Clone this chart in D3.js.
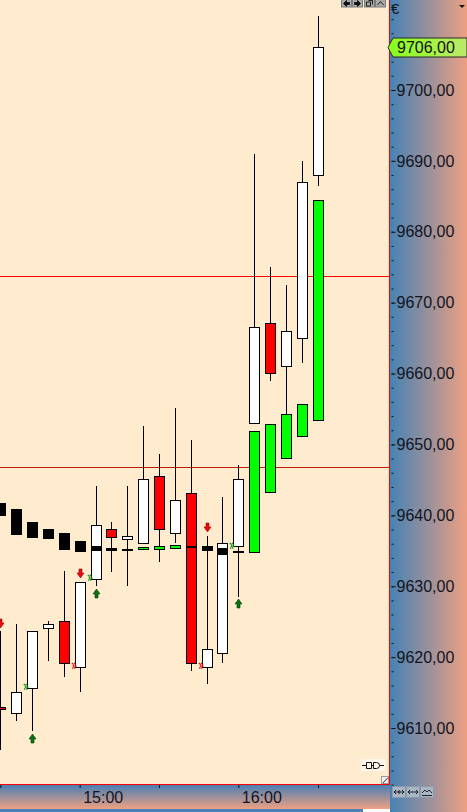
<!DOCTYPE html>
<html>
<head>
<meta charset="utf-8">
<script src="https://cdn.jsdelivr.net/npm/d3@7"></script>
<style>
    body { margin: 0; background: #fff; }
    svg { display: block; }
    text { font-family: "Liberation Sans", Arial, sans-serif; }
</style>
</head>
<body>
<div id="chart"></div>
<script>
// barras de 6 minutos
const barTimes = ['14:30', '14:36', '14:42', '14:48', '14:54', '15:00', '15:06', '15:12', '15:18', '15:24',
    '15:30', '15:36', '15:42', '15:48', '15:54', '16:00', '16:06', '16:12', '16:18', '16:24', '16:30']
const opens  = [9612.97, 9612.12, 9615.65, 9624.10, 9625.09, 9618.60, 9631.02, 9638.07, 9636.66, 9636.10,
    9645.55, 9637.51, 9643.15, 9618.60, 9620.58, 9635.67, 9653.03, 9667.13, 9661.07, 9665.02, 9688.01]
const highs  = [9623.68, 9624.67, 9623.68, 9625.09, 9632.15, 9630.60, 9644.14, 9639.06, 9644.14, 9652.60,
    9648.65, 9655.14, 9650.63, 9637.09, 9642.59, 9647.10, 9690.97, 9675.03, 9672.49, 9689.98, 9710.44]
const lows   = [9606.90, 9610.99, 9609.58, 9619.45, 9617.20, 9615.08, 9630.03, 9632.01, 9630.03, 9635.96,
    9633.42, 9636.10, 9618.04, 9616.21, 9619.17, 9628.48, 9653.00, 9658.95, 9654.30, 9661.49, 9686.46]
const closes = [9612.69, 9615.08, 9623.68, 9624.67, 9619.17, 9630.60, 9638.64, 9636.94, 9637.09, 9645.13,
    9638.07, 9642.16, 9619.17, 9621.14, 9636.10, 9645.13, 9666.57, 9660.08, 9666.00, 9687.02, 9706.07]

// indicador de cajas (negro = bajista, verde = alcista)
const boxOpens  = [9641.74, 9640.90, 9639.06, 9638.07, 9637.50, 9636.40, 9635.68, 9635.40, 9635.25, 9635.20,
    9635.25, 9635.45, 9635.70, 9635.70, 9635.35, 9635.00, 9634.80, 9643.30, 9648.10, 9651.20, 9653.50]
const boxCloses = [9639.91, 9637.20, 9636.80, 9636.66, 9635.10, 9634.83, 9634.97, 9634.97, 9635.10, 9635.50,
    9635.70, 9635.80, 9635.60, 9635.00, 9634.40, 9634.74, 9651.90, 9652.90, 9654.30, 9655.70, 9684.50]

const priceLines = [9673.76, 9646.82]
const lastPrice = 9706.00

const sellArrows = [{ bar: 0, price: 9624.1 }, { bar: 5, price: 9631.2 }, { bar: 13, price: 9637.65 }]
const buyArrows  = [{ bar: 2, price: 9609.2 }, { bar: 6, price: 9629.6 }, { bar: 15, price: 9628.2 }]
const markers = [
    { bar: 2, price: 9615.72, color: '#138a13' },
    { bar: 5, price: 9618.75, color: '#e01010' },
    { bar: 6, price: 9631.09, color: '#138a13' },
    { bar: 13, price: 9618.75, color: '#e01010' },
    { bar: 15, price: 9635.67, color: '#138a13' },
]

const priceTicksMajor = d3.range(9610, 9701, 10)
const priceTicksMinor = d3.range(9602, 9713, 2)

const config = {
    width: 467,
    height: 812,
    plotRight: 389,
    plotBottom: 784,
    bg: '#ffebcd',
}

const parseTime = d3.timeParse('%H:%M')
const fmtPrice = (d) => d3.format('.2f')(d).replace('.', ',')

const x = d3.scaleTime()
    .domain([parseTime('14:30'), parseTime('16:00')])
    .range([0.3, 238.3])
const y = d3.scaleLinear()
    .domain([9610, 9700])
    .range([728, 90])

const px = (v) => Math.round(v) + 0.5

const svg = d3.select('#chart')
    .append('svg')
    .attr('width', config.width)
    .attr('height', config.height)

const defs = svg.append('defs')
const gY = defs.append('linearGradient').attr('id', 'gradY').attr('x1', 0).attr('x2', 1).attr('y1', 0).attr('y2', 0)
gY.append('stop').attr('offset', '0%').attr('stop-color', '#4682b4')
gY.append('stop').attr('offset', '100%').attr('stop-color', '#eda082')
const gX = defs.append('linearGradient').attr('id', 'gradX').attr('x1', 0).attr('x2', 0).attr('y1', 0).attr('y2', 1)
gX.append('stop').attr('offset', '0%').attr('stop-color', '#4a7fb4')
gX.append('stop').attr('offset', '100%').attr('stop-color', '#eea182')
const gBadge = defs.append('linearGradient').attr('id', 'gradBadge').attr('x1', 0).attr('x2', 1).attr('y1', 0).attr('y2', 0)
gBadge.append('stop').attr('offset', '0%').attr('stop-color', '#86ff1a')
gBadge.append('stop').attr('offset', '100%').attr('stop-color', '#bde86a')
defs.append('clipPath').attr('id', 'plotClip')
    .append('rect').attr('x', 0).attr('y', 0).attr('width', config.plotRight).attr('height', config.plotBottom)

// fondos
svg.append('rect').attr('x', 0).attr('y', 0).attr('width', config.plotRight).attr('height', config.plotBottom).attr('fill', config.bg)
svg.append('rect').attr('x', 390).attr('y', 0).attr('width', 77).attr('height', 812).attr('fill', 'url(#gradY)')
svg.append('rect').attr('x', 0).attr('y', 785).attr('width', 390).attr('height', 24).attr('fill', 'url(#gradX)')
svg.append('rect').attr('x', 0).attr('y', 809).attr('width', 390).attr('height', 3).attr('fill', '#4a80b6')
svg.append('rect').attr('x', 363).attr('y', 809).attr('width', 27).attr('height', 3).attr('fill', '#ffffff')

const plot = svg.append('g').attr('clip-path', 'url(#plotClip)')

// lineas horizontales
plot.selectAll('.pline')
    .data(priceLines)
    .enter()
    .append('line')
    .attr('x1', 0).attr('x2', config.plotRight)
    .attr('y1', (d) => px(y(d))).attr('y2', (d) => px(y(d)))
    .attr('stroke', (d, i) => (i === 0 ? '#ff0000' : '#c41a0a'))
    .attr('stroke-width', 1)

const bars = barTimes.map((t, i) => ({
    cx: px(x(parseTime(t))),
    o: opens[i], h: highs[i], l: lows[i], c: closes[i],
    bo: boxOpens[i], bc: boxCloses[i],
}))

// velas
const candle = plot.selectAll('.candle').data(bars).enter().append('g')
candle.append('line')
    .attr('x1', (d) => d.cx).attr('x2', (d) => d.cx)
    .attr('y1', (d) => Math.round(y(d.h))).attr('y2', (d) => Math.round(y(d.l)))
    .attr('stroke', '#000').attr('stroke-width', 1)
candle.append('rect')
    .attr('x', (d) => d.cx - 5)
    .attr('width', 10)
    .attr('y', (d) => px(y(Math.max(d.o, d.c))))
    .attr('height', (d) => Math.max(1, Math.round(y(Math.min(d.o, d.c))) - Math.round(y(Math.max(d.o, d.c)))))
    .attr('fill', (d) => (d.c >= d.o ? '#ffffff' : '#ff0000'))
    .attr('stroke', '#000').attr('stroke-width', 1)

// indicador de cajas
plot.selectAll('.box').data(bars).enter()
    .append('rect')
    .each(function (d) {
        const up = d.bc > d.bo
        const top = Math.round(y(Math.max(d.bo, d.bc)))
        const bot = Math.round(y(Math.min(d.bo, d.bc)))
        const sel = d3.select(this)
        if (up) {
            sel.attr('x', d.cx - 5).attr('width', 10)
                .attr('y', top + 0.5).attr('height', Math.max(2, bot - top))
                .attr('fill', '#00ff00').attr('stroke', '#000').attr('stroke-width', 1)
        } else {
            sel.attr('x', d.cx - 5.5).attr('width', 11)
                .attr('y', top).attr('height', Math.max(2, bot - top))
                .attr('fill', '#000')
        }
    })

// flechas
const arrowDown = (cx, tip) => `M${cx - 1.5},${tip - 9} h3 v4 h2 l-3.5,5 l-3.5,-5 h2 z`
const arrowUp = (cx, tip) => `M${cx - 1.5},${tip + 9} h3 v-4 h2 l-3.5,-5 l-3.5,5 h2 z`
plot.selectAll('.sell').data(sellArrows).enter().append('path')
    .attr('d', (d) => arrowDown(bars[d.bar].cx, Math.round(y(d.price))))
    .attr('fill', '#e80c0c').attr('stroke', '#a00000').attr('stroke-width', 0.6)
plot.selectAll('.buy').data(buyArrows).enter().append('path')
    .attr('d', (d) => arrowUp(bars[d.bar].cx, Math.round(y(d.price))))
    .attr('fill', '#0a7010').attr('stroke', '#044008').attr('stroke-width', 0.6)

// marcas punteadas
const mk = plot.selectAll('.mk').data(markers).enter().append('g')
    .attr('transform', (d) => `translate(${bars[d.bar].cx - 8.5},${Math.round(y(d.price))})`)
mk.append('path')
    .attr('d', 'M0,-3 L2,0 L0,3 M2,-3 L4,0 L2,3')
    .attr('fill', 'none')
    .attr('stroke', (d) => d.color)
    .attr('stroke-width', 1.4)
    .attr('stroke-dasharray', '1.2 0.6')

// bordes rojos
svg.append('line').attr('x1', 389.5).attr('x2', 389.5).attr('y1', 0).attr('y2', 785).attr('stroke', '#ff0000')
svg.append('line').attr('x1', 0).attr('x2', 390).attr('y1', 784.5).attr('y2', 784.5).attr('stroke', '#ff0000')

// eje de precios
const yMinor = svg.append('g')
    .attr('transform', 'translate(391.5,0)')
    .call(d3.axisRight(y).tickValues(priceTicksMinor).tickSize(2).tickFormat(''))
const yMajor = svg.append('g')
    .attr('transform', 'translate(391.5,0)')
    .call(d3.axisRight(y).tickValues(priceTicksMajor).tickSize(4).tickPadding(1).tickFormat(fmtPrice))
;[yMinor, yMajor].forEach((g) => {
    g.select('.domain').remove()
    g.selectAll('line').attr('stroke', '#111')
})
yMajor.selectAll('text')
    .attr('fill', '#14141e')
    .style('font-size', '16px')

// etiqueta de ultimo precio
const ly = Math.round(y(lastPrice)) + 0.5
svg.append('path')
    .attr('d', `M388,${ly} L393,${ly - 9.5} L467,${ly - 9.5} L467,${ly + 9.5} L393,${ly + 9.5} Z`)
    .attr('fill', 'url(#gradBadge)')
    .attr('stroke', '#2a2a2a').attr('stroke-width', 1)
svg.append('text')
    .attr('x', 397).attr('y', ly).attr('dy', '0.35em')
    .attr('fill', '#111')
    .style('font-size', '16px')
    .text(fmtPrice(lastPrice))

// eje de tiempo
const xAxis = svg.append('g')
    .attr('transform', 'translate(0,785)')
    .call(d3.axisBottom(x)
        .ticks(d3.timeMinute.every(30))
        .tickSize(3)
        .tickFormat((d) => (d.getMinutes() === 0 ? d3.timeFormat('%H:%M')(d) : '')))
xAxis.select('.domain').remove()
xAxis.selectAll('line').attr('stroke', '#111')
xAxis.selectAll('text')
    .attr('x', 3).attr('y', 18).attr('dy', null)
    .attr('text-anchor', 'start')
    .attr('fill', '#14141e')
    .style('font-size', '16px')
// el dominio recorta en 16:00, se añade el tick de 16:30
svg.append('line')
    .attr('x1', px(x(parseTime('16:30')))).attr('x2', px(x(parseTime('16:30'))))
    .attr('y1', 785).attr('y2', 788).attr('stroke', '#111')

// decoraciones de la plataforma
svg.append('text').attr('x', 391).attr('y', 14).attr('fill', '#111').style('font-size', '15px').text('€')
svg.append('path').attr('d', 'M459,5 L465,5 L462,8 Z').attr('fill', '#111')

const topIcons = svg.append('g')
;[341, 352, 364, 375].forEach((bx, i) => {
    topIcons.append('rect').attr('x', bx + 0.5).attr('y', -0.5).attr('width', 10).attr('height', 7.5)
        .attr('fill', '#a8a8a8').attr('stroke', '#7a7a7a')
    const cxi = bx + 5.5
    const glyphs = [
        `M${cxi - 3},3.5 L${cxi},0.5 L${cxi},6.5 Z M${cxi},2.5 h3 v2 h-3 z`,
        `M${cxi + 3},3.5 L${cxi},0.5 L${cxi},6.5 Z M${cxi},2.5 h-3 v2 h3 z`,
        `M${cxi - 3},2 h4 v4 h-4 z M${cxi - 1},0.5 h4 v4`,
        `M${cxi - 3},5 L${cxi},1.5 L${cxi + 3},5`,
    ]
    topIcons.append('path').attr('d', glyphs[i])
        .attr('fill', i < 2 ? '#111' : 'none').attr('stroke', '#111').attr('stroke-width', 0.9)
})

// icono de conector abajo a la derecha
const plug = svg.append('g')
plug.append('rect').attr('x', 361).attr('y', 759).attr('width', 24).attr('height', 12).attr('fill', '#fff6ea')
plug.append('path')
    .attr('d', 'M362,765.5 H366.5 M366.5,762.5 h5 v6 h-5 z M371.5,765.5 h1.5 M373.5,762.5 h3 a3,3 0 0 1 0,6 h-3 z M379.5,765.5 H384')
    .attr('fill', 'none').attr('stroke', '#111').attr('stroke-width', 1)
svg.append('rect').attr('x', 381.5).attr('y', 776.5).attr('width', 7).attr('height', 7)
    .attr('fill', '#f0f0f0').attr('stroke', '#9a9a9a')
svg.append('line').attr('x1', 383).attr('y1', 783).attr('x2', 388).attr('y2', 777.5)
    .attr('stroke', '#333').attr('stroke-width', 1)

// botones del eje inferior derecho
const btns = svg.append('g')
;[392, 406, 420].forEach((bx, i) => {
    btns.append('rect').attr('x', bx + 0.5).attr('y', 786.5).attr('width', 13).attr('height', 11)
        .attr('fill', '#a9b6c8').attr('stroke', '#8c98aa')
    const c = bx + 7
    const g = [
        `M${c - 5},792 H${c + 5} M${c - 3},790 L${c - 5},792 L${c - 3},794 M${c + 3},790 L${c + 5},792 L${c + 3},794 M${c},790 v4`,
        `M${c - 5},792 H${c + 5} M${c - 3},790 L${c - 5},792 L${c - 3},794 M${c + 3},790 L${c + 5},792 L${c + 3},794`,
        `M${c - 5},793 L${c - 2},790 L${c},792 L${c + 2},790 L${c + 5},793 M${c - 5},795.5 H${c + 5}`,
    ]
    btns.append('path').attr('d', g[i]).attr('fill', 'none').attr('stroke', '#111').attr('stroke-width', 0.9)
})
</script>
</body>
</html>
